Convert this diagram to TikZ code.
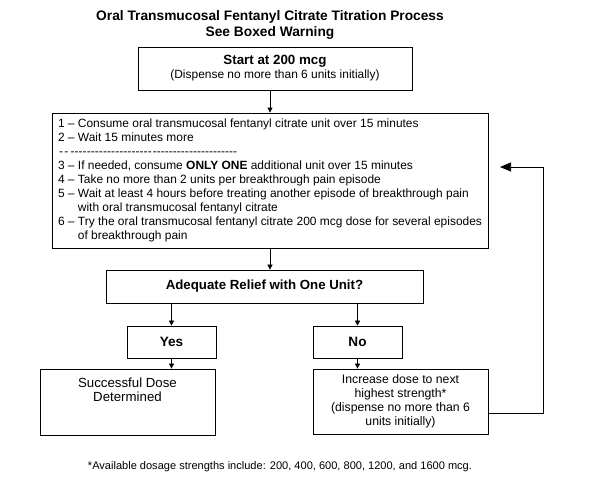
\documentclass[tikz,border=0pt]{standalone}
\usepackage{fontspec}
\setmainfont{Liberation Sans}
\usepackage{tikz}
\usetikzlibrary{arrows.meta, positioning, calc}

\begin{document}
\begin{tikzpicture}[
  stepbox/.style={draw, line width=0.7pt, inner sep=2pt, align=center, font=\fontsize{11.9}{13.9}\selectfont},
  headbox/.style={stepbox, font=\fontsize{13.3}{15}\selectfont\bfseries},
  arr/.style={-{Triangle[length=5pt, width=5pt]}, line width=0.7pt},
  backarr/.style={-{Triangle[length=11pt, width=9pt]}, line width=0.7pt},
]
\useasboundingbox (0,0) rectangle (20.685,16.905);

% === Title ===
\node[font=\fontsize{13.7}{16}\selectfont\bfseries, align=center] (title) at (9.45, 16.03)
  {Oral Transmucosal Fentanyl Citrate Titration Process\\See Boxed Warning};

% === Start ===
\node[stepbox, minimum width=9.59cm, minimum height=1.505cm] (start) at (9.625, 14.51)
  {{\fontsize{13.3}{15}\selectfont\bfseries Start at 200 mcg}\\(Dispense no more than 6 units initially)};

% === Steps ===
\node[stepbox, align=left, minimum width=15.26cm, minimum height=4.725cm] (steps) at (9.45, 10.59)
  {1 – Consume oral transmucosal fentanyl citrate unit over 15 minutes\\
   2 – Wait 15 minutes more\\
   \hbox to 0.4cm{\xleaders\hbox{-}\hfill}\hspace{1pt}\hbox to 2.85cm{\xleaders\hbox{-}\hfill}\hspace{1pt}\hbox to 2.95cm{\xleaders\hbox{-}\hfill}\\
   3 – If needed, consume \textbf{ONLY ONE} additional unit over 15 minutes\\
   4 – Take no more than 2 units per breakthrough pain episode\\
   5 – Wait at least 4 hours before treating another episode of breakthrough pain\\
   \phantom{5 – }with oral transmucosal fentanyl citrate\\
   6 – Try the oral transmucosal fentanyl citrate 200 mcg dose for several episodes\\
   \phantom{6 – }of breakthrough pain};
\draw[arr] (steps.north |- start.south) -- (steps.north);

% === Decision ===
\node[headbox, font=\fontsize{13.2}{15}\selectfont\bfseries, minimum width=11.095cm, minimum height=1.155cm] (relief) at (9.2575, 6.8775)
  {Adequate Relief with One Unit?};
\draw[arr] (steps.south) -- (steps.south |- relief.north);

\node[headbox, font=\fontsize{13.5}{15}\selectfont\bfseries, minimum width=3.115cm, minimum height=1.12cm] (yes) at (6.0025, 4.935) {Yes};
\node[headbox, font=\fontsize{13.5}{15}\selectfont\bfseries, minimum width=3.115cm, minimum height=1.12cm] (no) at (12.5125, 4.935) {No};
\draw[arr] (yes.north |- relief.south) -- (yes.north);
\draw[arr] (no.north |- relief.south) -- (no.north);

% === Outcomes ===
\node[stepbox, font=\fontsize{13.2}{14}\selectfont, minimum width=6.125cm, minimum height=2.31cm, text depth=24pt] (success) at (4.4625, 2.835)
  {Successful Dose\\Determined};
\node[stepbox, font=\fontsize{12.2}{14}\selectfont, minimum width=6.125cm, minimum height=2.275cm] (increase) at (14.0175, 2.8525)
  {Increase dose to next\\highest strength*\\(dispense no more than 6\\units initially)};
\draw[arr] (yes.south) -- (yes.south |- success.north);
\draw[arr] (no.south) -- (no.south |- increase.north);

% loop back to the steps
\coordinate (backlow) at (19.005, 2.45);
\coordinate (backhigh) at (19.005, 11.06);
\coordinate (backend) at (17.5, 11.06);
\draw[backarr] (increase.east |- backlow) -- (backlow) -- (backhigh) -- (backend);

% footnote
\node[font=\fontsize{11}{13}\selectfont] (note) at (9.8, 0.56)
  {*Available dosage strengths include: 200, 400, 600, 800, 1200, and 1600 mcg.};
\end{tikzpicture}
\end{document}
